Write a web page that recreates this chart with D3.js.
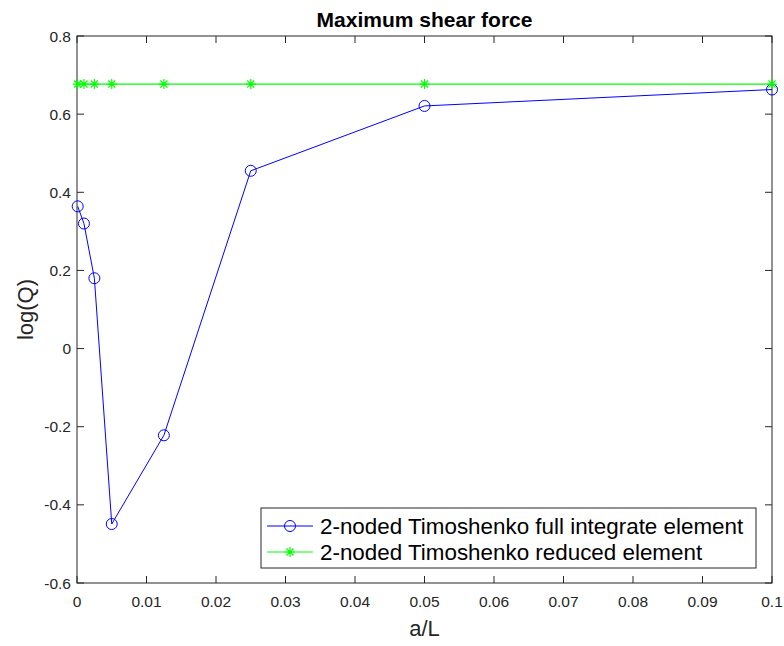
<!DOCTYPE html>
<html>
<head>
<meta charset="utf-8">
<script src="https://cdn.jsdelivr.net/npm/d3@7"></script>
<style>
  body { margin: 0; background: #fff; }
  svg { font-family: "Liberation Sans", Arial, sans-serif; }
</style>
</head>
<body>
<div id="chart"></div>
<script>
// Data
const aL = [0.0001, 0.001, 0.0025, 0.005, 0.0125, 0.025, 0.05, 0.1];
const fullQ = [0.364, 0.320, 0.180, -0.449, -0.222, 0.455, 0.621, 0.663];
const reducedQ = [0.677, 0.677, 0.677, 0.677, 0.677, 0.677, 0.677, 0.677];
const xTicks = [0, 0.01, 0.02, 0.03, 0.04, 0.05, 0.06, 0.07, 0.08, 0.09, 0.1];
const yTicks = [-0.6, -0.4, -0.2, 0, 0.2, 0.4, 0.6, 0.8];
const seriesNames = ["2-noded Timoshenko full integrate element", "2-noded Timoshenko reduced element"];

const width = 784, height = 646;
const plotL = 77, plotR = 772, plotT = 36, plotB = 583;
const axisColor = "#262626";

const svg = d3.select("#chart").append("svg")
  .attr("width", width).attr("height", height);

const x = d3.scaleLinear().domain([0, 0.1]).range([plotL, plotR]);
const y = d3.scaleLinear().domain([-0.6, 0.8]).range([plotB, plotT]);

// box
svg.append("rect")
  .attr("x", plotL).attr("y", plotT)
  .attr("width", plotR - plotL).attr("height", plotB - plotT)
  .attr("fill", "none").attr("stroke", axisColor).attr("stroke-width", 1);

// ticks (inward, on all four sides)
const tl = 7;
const fmt = d => d === 0 ? "0" : String(+d.toFixed(2));
xTicks.forEach(t => {
  svg.append("line").attr("x1", x(t)).attr("x2", x(t)).attr("y1", plotB).attr("y2", plotB - tl).attr("stroke", axisColor);
  svg.append("line").attr("x1", x(t)).attr("x2", x(t)).attr("y1", plotT).attr("y2", plotT + tl).attr("stroke", axisColor);
  svg.append("text").attr("x", x(t)).attr("y", plotB + 24)
    .attr("text-anchor", "middle").attr("font-size", 15.5).attr("fill", axisColor).text(fmt(t));
});
yTicks.forEach(t => {
  svg.append("line").attr("x1", plotL).attr("x2", plotL + tl).attr("y1", y(t)).attr("y2", y(t)).attr("stroke", axisColor);
  svg.append("line").attr("x1", plotR).attr("x2", plotR - tl).attr("y1", y(t)).attr("y2", y(t)).attr("stroke", axisColor);
  svg.append("text").attr("x", plotL - 6).attr("y", y(t) + 5.5)
    .attr("text-anchor", "end").attr("font-size", 15.5).attr("fill", axisColor).text(fmt(t));
});

// labels
svg.append("text").attr("x", (plotL + plotR) / 2).attr("y", 27)
  .attr("text-anchor", "middle").attr("font-size", 21).attr("font-weight", "bold").attr("fill", "#000")
  .text("Maximum shear force");
svg.append("text").attr("x", (plotL + plotR) / 2).attr("y", 636)
  .attr("text-anchor", "middle").attr("font-size", 22).attr("fill", axisColor).text("a/L");
svg.append("text").attr("transform", `translate(33, ${(plotT + plotB) / 2}) rotate(-90)`)
  .attr("text-anchor", "middle").attr("font-size", 22).attr("fill", axisColor).text("log(Q)");

const line = d3.line().x(d => x(d[0])).y(d => y(d[1]));
const fullData = aL.map((a, i) => [a, fullQ[i]]);
const redData = aL.map((a, i) => [a, reducedQ[i]]);

function asterisk(g, cx, cy, r, color) {
  const s = r * 0.7071;
  const d = `M${cx - r},${cy}L${cx + r},${cy}M${cx},${cy - r}L${cx},${cy + r}` +
    `M${cx - s},${cy - s}L${cx + s},${cy + s}M${cx - s},${cy + s}L${cx + s},${cy - s}`;
  g.append("path").attr("d", d).attr("stroke", color).attr("stroke-width", 1.2).attr("fill", "none");
}

// blue series
svg.append("path").datum(fullData).attr("d", line)
  .attr("fill", "none").attr("stroke", "#0000ff").attr("stroke-width", 1);
svg.append("g").selectAll("circle").data(fullData).join("circle")
  .attr("cx", d => x(d[0])).attr("cy", d => y(d[1])).attr("r", 5.5)
  .attr("fill", "none").attr("stroke", "#0000ff").attr("stroke-width", 1);

// green series
svg.append("path").datum(redData).attr("d", line)
  .attr("fill", "none").attr("stroke", "#00ff00").attr("stroke-width", 1.2);
const gm = svg.append("g");
redData.forEach(d => asterisk(gm, x(d[0]), y(d[1]), 5, "#00ff00"));

// legend
const lg = svg.append("g");
lg.append("rect").attr("x", 261).attr("y", 508).attr("width", 495).attr("height", 60)
  .attr("fill", "#fff").attr("stroke", axisColor).attr("stroke-width", 1);
const rows = [526, 552];
[["#0000ff", "o"], ["#00ff00", "*"]].forEach((s, i) => {
  const ry = rows[i];
  lg.append("line").attr("x1", 267).attr("x2", 313).attr("y1", ry).attr("y2", ry)
    .attr("stroke", s[0]).attr("stroke-width", 1);
  if (s[1] === "o") {
    lg.append("circle").attr("cx", 290).attr("cy", ry).attr("r", 5.5)
      .attr("fill", "none").attr("stroke", s[0]);
  } else {
    asterisk(lg, 290, ry, 5, s[0]);
  }
  lg.append("text").attr("x", 320).attr("y", ry + 8).attr("font-size", 22.4)
    .attr("fill", "#000").text(seriesNames[i]);
});
</script>
</body>
</html>
